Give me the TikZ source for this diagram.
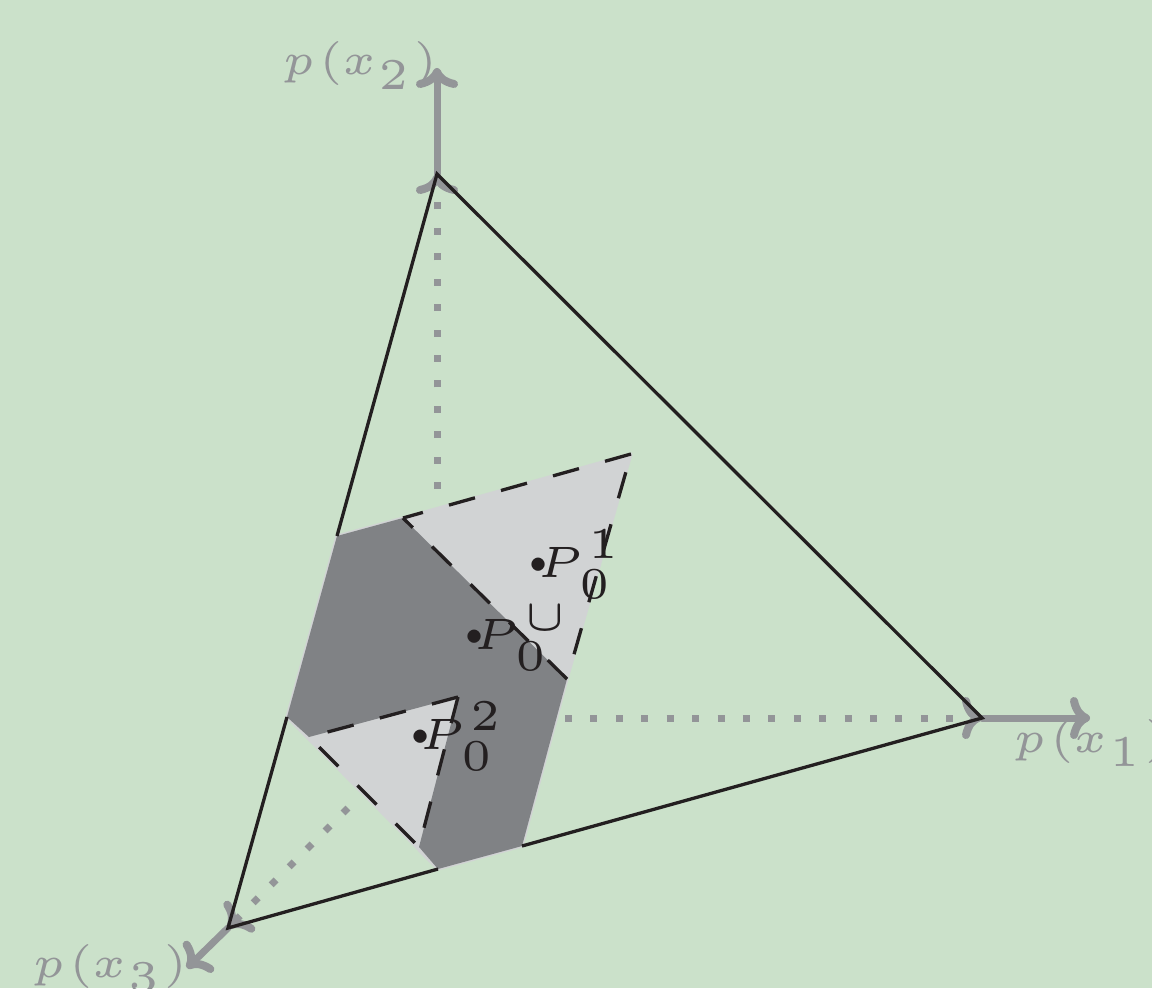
\documentclass[tikz,border=0pt]{standalone}
\usetikzlibrary{arrows.meta}
\definecolor{bgc}{HTML}{CBE1CA}
\definecolor{ink}{HTML}{231F20}
\definecolor{axisc}{HTML}{939598}
\definecolor{lightc}{HTML}{D1D3D4}
\definecolor{darkc}{HTML}{808285}
\newcommand{\biglab}{\fontsize{5}{6}\selectfont}
\newcommand{\Plab}[2]{\scalebox{2.5}{\biglab\rlap{\raisebox{0.67pt}{\scalebox{0.62}{$\bullet$}}}\kern1.05pt$P$\kern-0.45pt\rlap{\kern1.0pt\raisebox{2.16pt}{$#1$}}\raisebox{-2.4pt}{$#2$}}}
\newcommand{\Axlab}[1]{\scalebox{2.5}{\biglab$p$\kern0.5pt$($\kern-0.1pt$x$\kern0.2pt\raisebox{-1.6pt}{$#1$}\kern0.6pt$)$}}
\tikzset{
  x=0.01cm,y=-0.01cm,
  textnode/.style={inner sep=0pt,outer sep=0pt,anchor=base west},
  pointlab/.style={textnode,text=ink},
  axislab/.style={textnode,text=axisc},
  edge/.style={draw=ink,line width=0.033cm},
  dashedge/.style={draw=ink,line width=0.033cm,dash pattern=on 0.27cm off 0.27cm},
  axisline/.style={draw=axisc,line width=0.07cm,line cap=round,
    -{Computer Modern Rightarrow[length=0.2cm,width=0.42cm,line cap=round,line width=0.08cm]}},
  dotline/.style={draw=axisc,line width=0.07cm,dash pattern=on 0.07cm off 0.184cm,
    -{Computer Modern Rightarrow[length=0.2cm,width=0.42cm,line cap=round,line width=0.08cm,sep=0pt]}},
  lightpoly/.style={fill=lightc,draw=lightc,line width=0.03cm,line join=round},
  darkpoly/.style={fill=darkc},
}
\begin{document}
\begin{tikzpicture}
\useasboundingbox (0,0) rectangle (1152,988);
\clip (0,0) rectangle (1152,988);
\fill[bgc] (0,0) rectangle (1152,988);
% coordinates
\coordinate (A) at (437,174);
\coordinate (B) at (982,718);
\coordinate (C) at (228,928);
\coordinate (a1) at (437,489);
\coordinate (b1) at (565,718);
\coordinate (c1) at (348,808);
\coordinate (ax) at (437,68);
\coordinate (bx) at (1090,718);
\coordinate (cx) at (187,968);
\coordinate (p1) at (337,536);
\coordinate (p2) at (403,518);
\coordinate (p3) at (631,454);
\coordinate (p4) at (567,679);
\coordinate (p5) at (522,846);
\coordinate (p6) at (438,869);
\coordinate (p7) at (419,847);
\coordinate (p8) at (458,697);
\coordinate (p9) at (309,737);
\coordinate (p10) at (287,717);
% dotted axes inside the simplex
\draw[dotline] (a1) -- (A);
\draw[dotline] (b1) -- (B);
\draw[dotline] (c1) -- (C);
% axes
\draw[axisline] (A) -- (ax);
\draw[axisline] (B) -- (bx);
\draw[axisline] (C) -- (cx);
% regions
\path[lightpoly] (p1) -- (p2) -- (p3) -- (p4) -- (p5) -- (p6) -- (p10) -- cycle;
\path[darkpoly] (p1) -- (p2) -- (p4) -- (p5) -- (p6) -- (p7) -- (p8) -- (p9) -- (p10) -- cycle;
% simplex edges
\draw[edge,line join=miter] (p1) -- (A) -- (B) -- (p5);
\draw[edge,line join=miter] (p10) -- (C) -- (p6);
% dashed edges
\draw[dashedge] (p3) -- (p2);
\draw[dashedge] (p4) -- (p2);
\draw[dashedge,dash phase=0.35cm] (p3) -- (p4);
\draw[dashedge] (p8) -- (p9);
\draw[dashedge] (p8) -- (p7);
\draw[dashedge,dash phase=0.48cm] (p7) -- (p9);
% labels
\node[pointlab] (l1) at (528,577) {\Plab{1}{0}};
\node[pointlab] (lu) at (464,649) {\Plab{\cup}{0}};
\node[pointlab] (l2) at (410,749) {\Plab{2}{0}};
\node[axislab] (x2) at (282,75) {\Axlab{2}};
\node[axislab] (x1) at (1013,752) {\Axlab{1}};
\node[axislab] (x3) at (32,977) {\Axlab{3}};
\end{tikzpicture}
\end{document}
